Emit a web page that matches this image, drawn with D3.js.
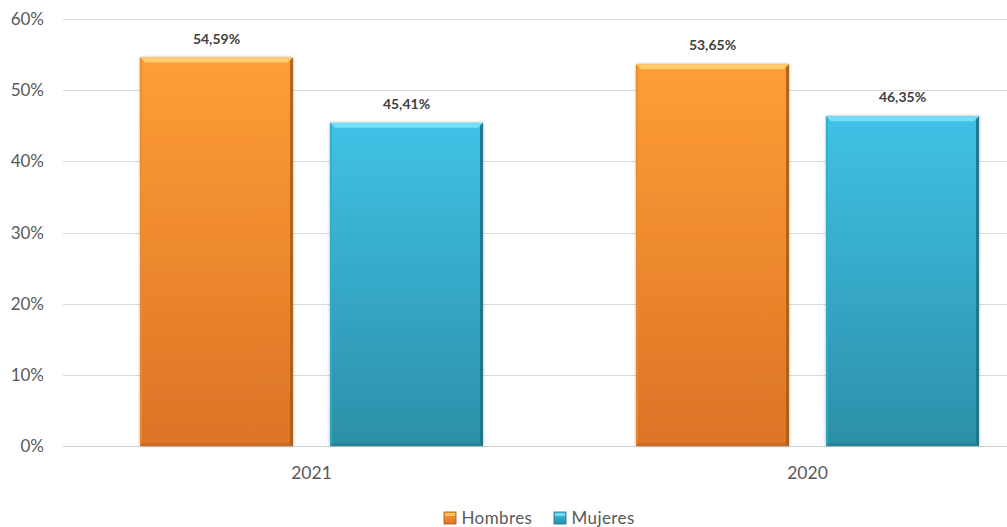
<!DOCTYPE html>
<html>
<head>
<meta charset="utf-8">
<script src="https://cdn.jsdelivr.net/npm/d3@7"></script>
<style>
  html, body { margin: 0; padding: 0; background: #fff; }
  svg { display: block; }
  text { font-family: Lato, "Open Sans", "Liberation Sans", sans-serif; }
</style>
</head>
<body>
<svg id="chart" width="1007" height="527"></svg>
<script>
// ---- data ----
const categories = ["2021", "2020"];
const seriesNames = ["Hombres", "Mujeres"];
const hombres = [54.59, 53.65];
const mujeres = [45.41, 46.35];
const valueLabels = [["54,59%", "45,41%"], ["53,65%", "46,35%"]];
const yTicks = [0, 10, 20, 30, 40, 50, 60];

const W = 1007, H = 527;
const svg = d3.select("#chart");
const defs = svg.append("defs");

const y = d3.scaleLinear().domain([0, 60]).range([446, 19]);
const x0 = d3.scaleBand().domain(categories).range([63.5, 1055.5]).padding(0);
const x1 = d3.scaleBand().domain(seriesNames)
  .range([76.5, x0.bandwidth() - 76.5]).paddingInner(37 / 190).paddingOuter(0);

const palette = {
  Hombres: { top: "#FF9E35", bot: "#DB7427", bevel: "#FFD476", edge: "#A85A17", left: "#E88A2C" },
  Mujeres: { top: "#3FC2E6", bot: "#2C8FA8", bevel: "#7FE3FA", edge: "#1E6E82", left: "#35A9C8" }
};
seriesNames.forEach(s => {
  const g = defs.append("linearGradient").attr("id", "grad-" + s)
    .attr("x1", 0).attr("y1", 0).attr("x2", 0).attr("y2", 1);
  g.append("stop").attr("offset", "0%").attr("stop-color", palette[s].top);
  g.append("stop").attr("offset", "100%").attr("stop-color", palette[s].bot);
});
const f = defs.append("filter").attr("id", "shadow").attr("x", "-10%").attr("y", "-10%").attr("width", "120%").attr("height", "120%");
f.append("feGaussianBlur").attr("in", "SourceAlpha").attr("stdDeviation", 1.5).attr("result", "b");
f.append("feOffset").attr("in", "b").attr("dx", 0).attr("dy", 0).attr("result", "o");
f.append("feComponentTransfer").attr("in", "o").attr("result", "s")
  .append("feFuncA").attr("type", "linear").attr("slope", 0.35);
const m = f.append("feMerge");
m.append("feMergeNode").attr("in", "s");
m.append("feMergeNode").attr("in", "SourceGraphic");

// gridlines
svg.append("g").selectAll("line").data(yTicks).join("line")
  .attr("x1", 63).attr("x2", W)
  .attr("y1", d => Math.round(y(d)) + 0.5).attr("y2", d => Math.round(y(d)) + 0.5)
  .attr("stroke", d => d === 0 ? "#D0D0D0" : "#D9D9D9").attr("stroke-width", 1);

// y tick labels
svg.append("g").selectAll("text").data(yTicks).join("text")
  .attr("x", 44).attr("y", d => y(d) + 6)
  .attr("text-anchor", "end").attr("font-size", 17).attr("fill", "#595959")
  .text(d => d + "%");

// bars
const rows = categories.map((c, i) => ({ cat: c, vals: [hombres[i], mujeres[i]], i }));
const groups = svg.append("g").selectAll("g").data(rows).join("g")
  .attr("transform", d => `translate(${x0(d.cat)},0)`);

groups.each(function (row) {
  const g = d3.select(this);
  seriesNames.forEach((s, j) => {
    const v = row.vals[j];
    const bx = x1(s), bw = x1.bandwidth();
    const top = y(v), bot = y(0);
    const p = palette[s];
    const bar = g.append("g");
    bar.append("rect").attr("x", bx).attr("y", top).attr("width", bw).attr("height", bot - top)
      .attr("fill", `url(#grad-${s})`).attr("filter", "url(#shadow)");
    // top bevel
    const b = 5;
    bar.append("polygon")
      .attr("points", [[bx, top], [bx + bw, top], [bx + bw - b, top + b], [bx + b, top + b]].map(q => q.join(",")).join(" "))
      .attr("fill", p.bevel).attr("opacity", 0.85);
    // right edge
    bar.append("polygon")
      .attr("points", [[bx + bw, top], [bx + bw, bot], [bx + bw - 3, bot - 3], [bx + bw - 3, top + 3]].map(q => q.join(",")).join(" "))
      .attr("fill", p.edge).attr("opacity", 0.85);
    // left edge
    bar.append("polygon")
      .attr("points", [[bx, top], [bx + 2, top + 2], [bx + 2, bot - 2], [bx, bot]].map(q => q.join(",")).join(" "))
      .attr("fill", p.left).attr("opacity", 0.8);
    // bottom edge
    bar.append("polygon")
      .attr("points", [[bx, bot], [bx + bw, bot], [bx + bw - 3, bot - 3], [bx + 3, bot - 3]].map(q => q.join(",")).join(" "))
      .attr("fill", p.edge).attr("opacity", 0.35);
    // value label
    g.append("text").attr("x", bx + bw / 2).attr("y", top - 14)
      .attr("text-anchor", "middle").attr("font-size", 14).attr("font-weight", "bold")
      .attr("fill", "#404040").text(valueLabels[row.i][j]);
  });
});

// category labels
svg.append("g").selectAll("text").data(categories).join("text")
  .attr("x", d => x0(d) + x0.bandwidth() / 2).attr("y", 479)
  .attr("text-anchor", "middle").attr("font-size", 17.5).attr("fill", "#595959")
  .text(d => d);

// legend
const legendX = { Hombres: 444, Mujeres: 554 };
const lg = svg.append("g").selectAll("g").data(seriesNames).join("g")
  .attr("transform", d => `translate(${legendX[d]},512)`);
lg.append("rect").attr("width", 12).attr("height", 12).attr("fill", d => `url(#grad-${d})`)
  .attr("stroke", d => palette[d].edge).attr("stroke-width", 0.8);
lg.append("rect").attr("x", 1).attr("y", 1).attr("width", 10).attr("height", 3).attr("fill", d => palette[d].bevel).attr("opacity", 0.8);
lg.append("text").attr("x", 17.5).attr("y", 11.5).attr("font-size", 17).attr("letter-spacing", 0.4)
  .attr("fill", "#595959").text(d => d);
</script>
</body>
</html>
